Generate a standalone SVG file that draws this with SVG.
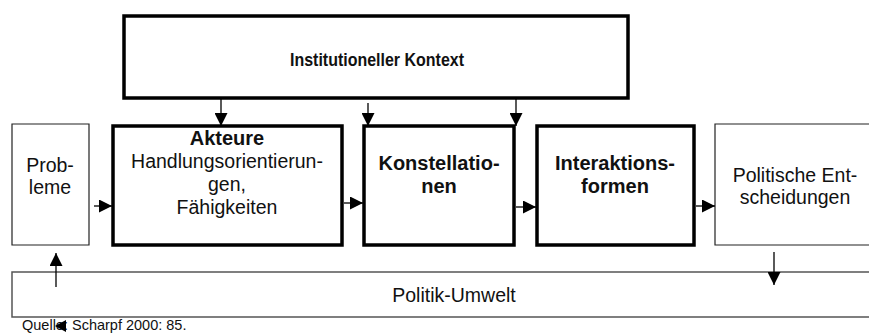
<svg xmlns="http://www.w3.org/2000/svg" width="869" height="334" viewBox="0 0 869 334">
<defs>
<marker id="ah" viewBox="0 0 10 10" refX="10" refY="5" markerWidth="13" markerHeight="13" markerUnits="userSpaceOnUse" orient="auto">
<path d="M0,0 L10,5 L0,10 Z" fill="#000"/>
</marker>
</defs>
<style>
text{font-family:"Liberation Sans",Arial,sans-serif;fill:#111;text-anchor:middle}
.t{font-size:19.5px}
.b{font-weight:bold;font-size:20px}
.k{font-weight:bold;font-size:18.5px}
.thick{fill:#fff;stroke:#000;stroke-width:3.5}
.thin{fill:#fff;stroke:#222;stroke-width:1.2}
.gray{fill:none;stroke:#555;stroke-width:1.5}
.c{stroke:#000;stroke-width:1.3;fill:none;marker-end:url(#ah)}
</style>
<g id="kontext">
<rect class="thick" x="124" y="16" width="504" height="82"/>
<text class="k" x="377" y="66" textLength="174" lengthAdjust="spacingAndGlyphs">Institutioneller Kontext</text>
</g>
<g id="probleme">
<path class="thin" d="M12,124 H89 V245 H12 Z"/>
<text class="t" x="50" y="172">Prob-</text>
<text class="t" x="50" y="194">leme</text>
</g>
<g id="akteure">
<rect class="thick" x="113" y="126" width="229" height="119"/>
<text class="t b" x="227" y="145">Akteure</text>
<text class="t" x="227" y="168">Handlungsorientierun-</text>
<text class="t" x="227" y="191">gen,</text>
<text class="t" x="227" y="214">Fähigkeiten</text>
</g>
<g id="konstellationen">
<rect class="thick" x="364" y="126" width="150" height="119"/>
<text class="t b" x="439" y="170">Konstellatio-</text>
<text class="t b" x="439" y="193">nen</text>
</g>
<g id="interaktionsformen">
<rect class="thick" x="537" y="126" width="157" height="119"/>
<text class="t b" x="615" y="170">Interaktions-</text>
<text class="t b" x="615" y="193">formen</text>
</g>
<g id="entscheidungen">
<path class="thin" d="M869,124 H715 V245 H869"/>
<text class="t" x="795" y="182">Politische Ent-</text>
<text class="t" x="795" y="204">scheidungen</text>
</g>
<g id="umwelt">
<path class="gray" d="M869,272 H12 V317 H869"/>
<text class="t" x="454" y="302">Politik-Umwelt</text>
</g>
<g id="connectors">
<line class="c" x1="221" y1="98" x2="221" y2="126"/>
<line class="c" x1="368" y1="103" x2="368" y2="126"/>
<line class="c" x1="516" y1="98" x2="516" y2="126"/>
<line class="c" x1="94" y1="206" x2="112" y2="206"/>
<line class="c" x1="344" y1="203" x2="363" y2="203"/>
<line class="c" x1="516" y1="207" x2="536" y2="207"/>
<line class="c" x1="696" y1="206" x2="715" y2="206"/>
<line class="c" x1="56" y1="287" x2="56" y2="253"/>
<line class="c" x1="774" y1="252" x2="774" y2="285"/>
</g>
<g id="quelle">
<text x="22" y="330" font-size="14.5" style="text-anchor:start">Quelle: Scharpf 2000: 85.</text>
<path d="M55,326 L66,320 L66,332 Z" fill="#000"/>
</g>
</svg>
